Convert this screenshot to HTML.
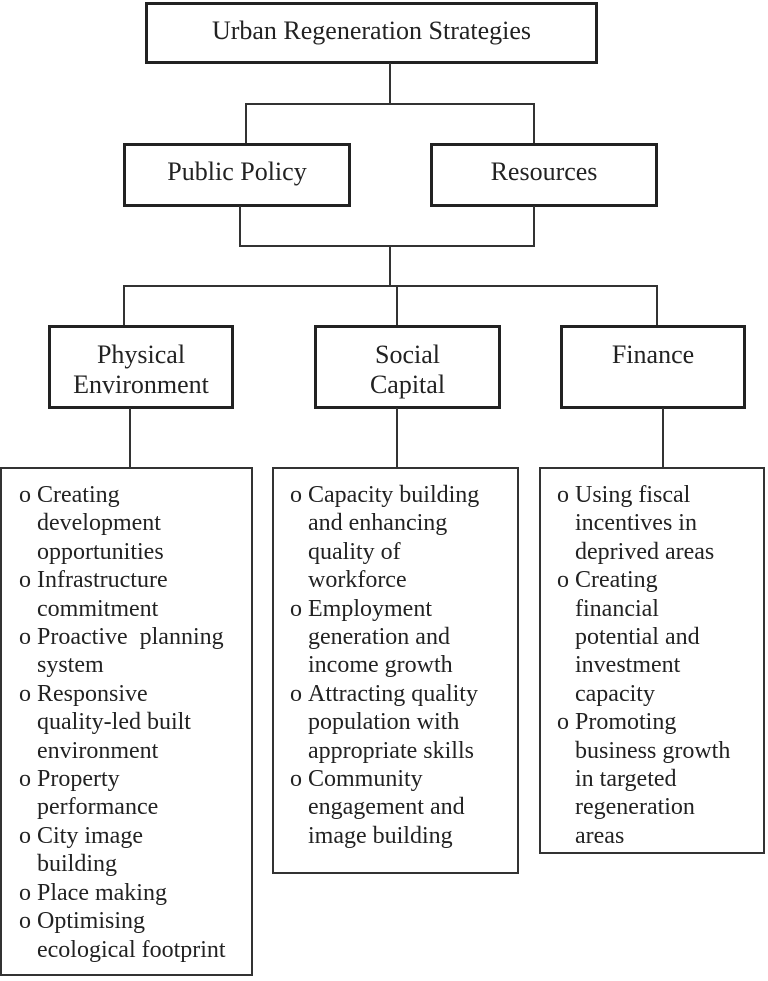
<!DOCTYPE html>
<html><head><meta charset="utf-8"><style>
body{margin:0;width:768px;height:981px;background:#fff;position:relative;overflow:hidden;font-family:"Liberation Serif",serif;color:#222}
.b{position:absolute;box-sizing:border-box;border:3px solid #222;text-align:center;font-size:26px;line-height:30px}
.l{position:absolute;background:#333}
.t{position:absolute;box-sizing:border-box;border:2px solid #333}
.t div{position:absolute;font-size:24px;line-height:28.4px;white-space:nowrap}
</style></head><body>
<div class="b" style="left:145px;top:2px;width:453px;height:62px;padding-top:11px">Urban Regeneration Strategies</div>
<div class="l" style="left:389px;top:63px;width:2px;height:42px"></div>
<div class="l" style="left:246px;top:103px;width:289px;height:2px"></div>
<div class="l" style="left:245px;top:103px;width:2px;height:41px"></div>
<div class="l" style="left:533px;top:103px;width:2px;height:41px"></div>
<div class="b" style="left:123px;top:143px;width:228px;height:64px;padding-top:11px">Public Policy</div>
<div class="b" style="left:430px;top:143px;width:228px;height:64px;padding-top:11px">Resources</div>
<div class="l" style="left:239px;top:206px;width:2px;height:41px"></div>
<div class="l" style="left:533px;top:206px;width:2px;height:41px"></div>
<div class="l" style="left:239px;top:245px;width:296px;height:2px"></div>
<div class="l" style="left:389px;top:245px;width:2px;height:42px"></div>
<div class="l" style="left:123px;top:285px;width:535px;height:2px"></div>
<div class="l" style="left:123px;top:285px;width:2px;height:41px"></div>
<div class="l" style="left:396px;top:285px;width:2px;height:41px"></div>
<div class="l" style="left:656px;top:285px;width:2px;height:41px"></div>
<div class="b" style="left:48px;top:325px;width:186px;height:84px;padding-top:12px">Physical<br>Environment</div>
<div class="b" style="left:314px;top:325px;width:187px;height:84px;padding-top:12px">Social<br>Capital</div>
<div class="b" style="left:560px;top:325px;width:186px;height:84px;padding-top:12px">Finance</div>
<div class="l" style="left:129px;top:408px;width:2px;height:60px"></div>
<div class="l" style="left:396px;top:408px;width:2px;height:60px"></div>
<div class="l" style="left:662px;top:408px;width:2px;height:60px"></div>

<div class="t" style="left:0;top:467px;width:253px;height:509px">
<div style="left:17px;top:12px">o&nbsp;Creating<br>&nbsp;&nbsp;&nbsp;development<br>&nbsp;&nbsp;&nbsp;opportunities<br>o&nbsp;Infrastructure<br>&nbsp;&nbsp;&nbsp;commitment<br>o&nbsp;Proactive&nbsp; planning<br>&nbsp;&nbsp;&nbsp;system<br>o&nbsp;Responsive<br>&nbsp;&nbsp;&nbsp;quality-led built<br>&nbsp;&nbsp;&nbsp;environment<br>o&nbsp;Property<br>&nbsp;&nbsp;&nbsp;performance<br>o&nbsp;City image<br>&nbsp;&nbsp;&nbsp;building<br>o&nbsp;Place making<br>o&nbsp;Optimising<br>&nbsp;&nbsp;&nbsp;ecological footprint</div>
</div>
<div class="t" style="left:272px;top:467px;width:247px;height:407px">
<div style="left:16px;top:12px">o&nbsp;Capacity building<br>&nbsp;&nbsp;&nbsp;and enhancing<br>&nbsp;&nbsp;&nbsp;quality of<br>&nbsp;&nbsp;&nbsp;workforce<br>o&nbsp;Employment<br>&nbsp;&nbsp;&nbsp;generation and<br>&nbsp;&nbsp;&nbsp;income growth<br>o&nbsp;Attracting quality<br>&nbsp;&nbsp;&nbsp;population with<br>&nbsp;&nbsp;&nbsp;appropriate skills<br>o&nbsp;Community<br>&nbsp;&nbsp;&nbsp;engagement and<br>&nbsp;&nbsp;&nbsp;image building</div>
</div>
<div class="t" style="left:539px;top:467px;width:226px;height:387px">
<div style="left:16px;top:12px">o&nbsp;Using fiscal<br>&nbsp;&nbsp;&nbsp;incentives in<br>&nbsp;&nbsp;&nbsp;deprived areas<br>o&nbsp;Creating<br>&nbsp;&nbsp;&nbsp;financial<br>&nbsp;&nbsp;&nbsp;potential and<br>&nbsp;&nbsp;&nbsp;investment<br>&nbsp;&nbsp;&nbsp;capacity<br>o&nbsp;Promoting<br>&nbsp;&nbsp;&nbsp;business growth<br>&nbsp;&nbsp;&nbsp;in targeted<br>&nbsp;&nbsp;&nbsp;regeneration<br>&nbsp;&nbsp;&nbsp;areas</div>
</div>
</body></html>
